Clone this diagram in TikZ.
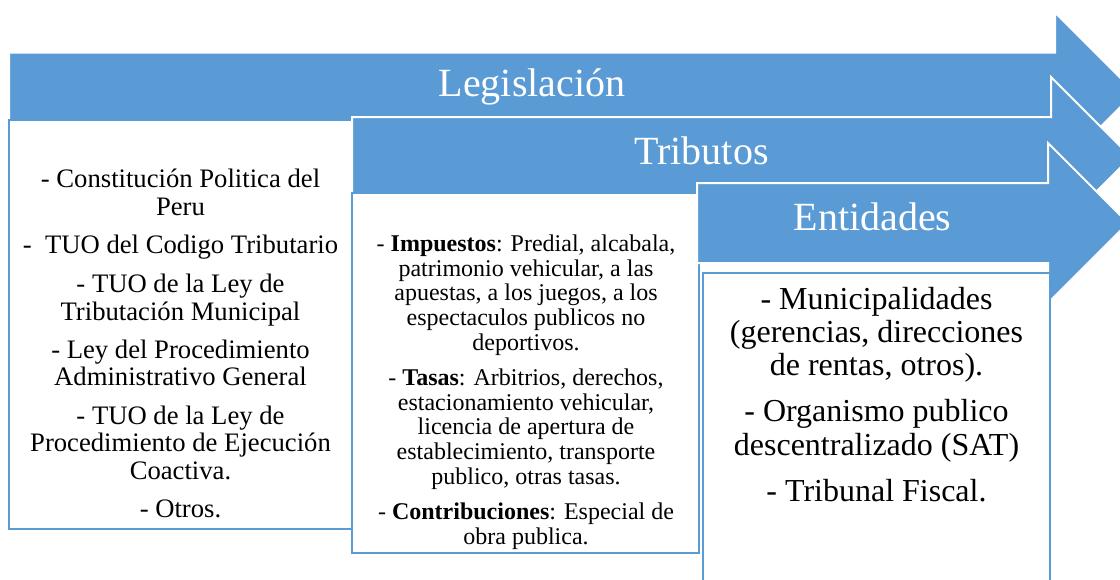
\documentclass[tikz,border=0pt]{standalone}
\usepackage{fontspec}
\setmainfont{Liberation Serif}
\definecolor{arrowblue}{HTML}{5B9BD5}
\begin{document}
\begin{tikzpicture}[x=0.75pt,y=-0.75pt,
  arrowshape/.style={fill=arrowblue,draw=white,line width=1.5pt,line join=miter},
  textbox/.style={fill=white,draw=arrowblue,line width=1.5pt},
  titletext/.style={text=white,font=\fontsize{30}{32}\selectfont,anchor=base,inner sep=0pt},
  lineA/.style={font=\fontsize{20}{22}\selectfont,anchor=base,inner sep=0pt},
  lineB/.style={font=\fontsize{18}{20}\selectfont,anchor=base,inner sep=0pt},
  lineC/.style={font=\fontsize{24}{26}\selectfont,anchor=base,inner sep=0pt}]
\useasboundingbox (0,0) rectangle (1120,579);
\clip (0,0) rectangle (1120,579);

% arrow 1 and its box
\draw[arrowshape] (9,52.5) -- (1055,52.5) -- (1055,12.5) -- (1135,92.5) -- (1055,172.5) -- (1055,132.5) -- (9,132.5) -- cycle;
\draw[textbox] (9,120) rectangle (352,529);
\node[titletext] (t1) at (532,96.7) {Legislación};

% arrow 2 and its box
\draw[arrowshape] (352,117) -- (1051,117) -- (1051,77) -- (1131,157) -- (1051,237) -- (1051,197) -- (352,197) -- cycle;
\draw[textbox] (352,193) rectangle (699,553);
\node[titletext] (t2) at (701.5,164) {Tributos};

% arrow 3 and its box
\draw[arrowshape] (697,183) -- (1048,183) -- (1048,143) -- (1128,223) -- (1048,303) -- (1048,263) -- (697,263) -- cycle;
\draw[textbox] (703,273) rectangle (1050,620);
\node[titletext] (t3) at (872.5,230.7) {Entidades};

% box 1 text
\foreach \yy/\tt [count=\i] in {
  187.7/{- Constitución Politica del},
  215.7/{Peru},
  253.3/{-\ \ TUO del Codigo Tributario},
  292.7/{- TUO de la Ley de},
  320/{Tributación Municipal},
  358.3/{- Ley del Procedimiento},
  385.7/{Administrativo General},
  424.3/{- TUO de la Ley de},
  451.7/{Procedimiento de Ejecución},
  479.3/{Coactiva.},
  517.7/{- Otros.}}
  \node[lineA] (a\i) at (180.5,\yy) {\tt};

% box 2 text
\foreach \yy/\tt [count=\i] in {
  251.7/{- \textbf{Impuestos}: Predial, alcabala,},
  276.7/{patrimonio vehicular, a las},
  300.7/{apuestas, a los juegos, a los},
  325.7/{espectaculos publicos no},
  350/{deportivos.},
  385/{- \textbf{Tasas}: Arbitrios, derechos,},
  410/{estacionamiento vehicular,},
  434/{licencia de apertura de},
  459/{establecimiento, transporte},
  484/{publico, otras tasas.},
  519/{- \textbf{Contribuciones}: Especial de},
  544/{obra publica.}}
  \node[lineB] (b\i) at (526,\yy) {\tt};

% box 3 text
\foreach \yy/\tt [count=\i] in {
  309.3/{- Municipalidades},
  342.7/{(gerencias, direcciones},
  375/{de rentas, otros).},
  421.7/{- Organismo publico},
  455/{descentralizado (SAT)},
  501.7/{- Tribunal Fiscal.}}
  \node[lineC] (c\i) at (876.5,\yy) {\tt};
\end{tikzpicture}
\end{document}
